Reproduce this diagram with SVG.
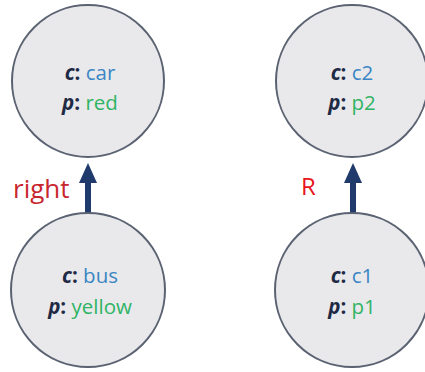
<svg xmlns="http://www.w3.org/2000/svg" width="425" height="372" viewBox="0 0 425 372">
<defs>
<style>
.node circle{fill:#e9e9ec;stroke:#5b6272;stroke-width:2}
.t{font-family:"Open Sans","Liberation Sans",sans-serif;font-size:20.5px;text-anchor:middle}
.k{fill:#1f2a44;font-weight:bold;font-style:italic}
.v{fill:#3a86c4}
.g{fill:#2fb464}
.edge{stroke:#1f3a6b;stroke-width:6;fill:none}
.lbl{font-family:"Open Sans","Liberation Sans",sans-serif;fill:#c8262e}
</style>
<marker id="ah" viewBox="0 0 20 20" refX="0" refY="10" markerWidth="20" markerHeight="20" markerUnits="userSpaceOnUse" orient="auto">
<path d="M0,1 L20,10 L0,19 Z" fill="#1f3a6b"/>
</marker>
</defs>
<rect width="425" height="372" fill="#ffffff"/>
<g id="edges">
<line class="edge" x1="88" y1="213" x2="88" y2="183" marker-end="url(#ah)"/>
<line class="edge" x1="353" y1="213" x2="353" y2="183" marker-end="url(#ah)"/>
<text class="lbl" x="13" y="198" font-size="26">right</text>
<text class="lbl" x="301" y="195" font-size="24" style="fill:#e8141c">R</text>
</g>
<g id="car" class="node">
<circle cx="88" cy="81" r="76"/>
<text class="t" x="90" y="80"><tspan class="k">c</tspan><tspan class="k" style="font-style:normal">:</tspan><tspan class="v"> car</tspan></text>
<text class="t" x="90" y="110"><tspan class="k">p</tspan><tspan class="k" style="font-style:normal">:</tspan><tspan class="g"> red</tspan></text>
</g>
<g id="bus" class="node">
<circle cx="88" cy="290" r="77"/>
<text class="t" x="90" y="283"><tspan class="k">c</tspan><tspan class="k" style="font-style:normal">:</tspan><tspan class="v"> bus</tspan></text>
<text class="t" x="90" y="314"><tspan class="k">p</tspan><tspan class="k" style="font-style:normal">:</tspan><tspan class="g"> yellow</tspan></text>
</g>
<g id="c2" class="node">
<circle cx="352" cy="81" r="76"/>
<text class="t" x="352" y="80"><tspan class="k">c</tspan><tspan class="k" style="font-style:normal">:</tspan><tspan class="v"> c2</tspan></text>
<text class="t" x="352" y="110"><tspan class="k">p</tspan><tspan class="k" style="font-style:normal">:</tspan><tspan class="g"> p2</tspan></text>
</g>
<g id="c1" class="node">
<circle cx="352" cy="290" r="77"/>
<text class="t" x="352" y="283"><tspan class="k">c</tspan><tspan class="k" style="font-style:normal">:</tspan><tspan class="v"> c1</tspan></text>
<text class="t" x="352" y="314"><tspan class="k">p</tspan><tspan class="k" style="font-style:normal">:</tspan><tspan class="g"> p1</tspan></text>
</g>
</svg>
